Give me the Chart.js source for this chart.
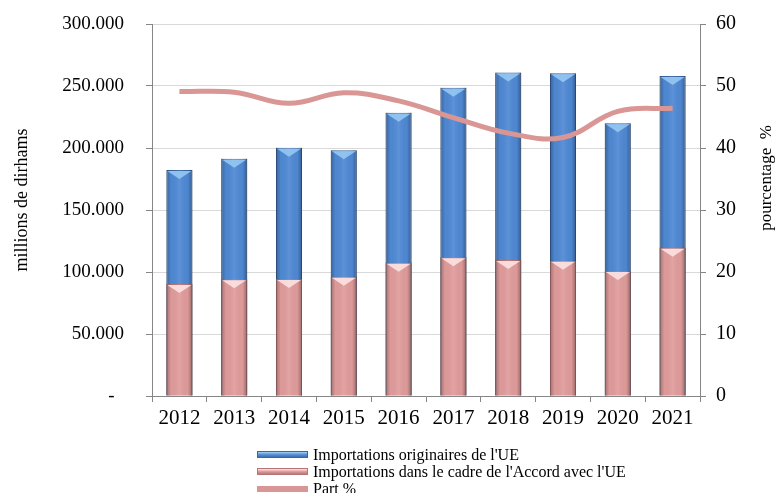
<!DOCTYPE html>
<html><head><meta charset="utf-8">
<script src="https://cdn.jsdelivr.net/npm/chart.js@4/dist/chart.umd.min.js"></script>
<style>
html,body{margin:0;padding:0;background:#fff;}
#wrap{position:relative;width:777px;height:493px;overflow:hidden;}
#c{position:absolute;left:0;top:0;}
#legend{position:absolute;left:257px;top:446px;font-family:'Liberation Serif','Times New Roman',serif;font-size:16px;color:#000;}
.item{display:flex;align-items:center;height:17px;white-space:nowrap;}
.sw{width:51px;height:7px;margin-right:5px;box-sizing:border-box;}
</style></head><body>
<div id="wrap"><canvas id="c" width="777" height="493"></canvas><div id="legend"></div></div>
<script>
const categories = ['2012','2013','2014','2015','2016','2017','2018','2019','2020','2021'];
const importsUE = [182300, 191400, 200200, 198100, 228500, 248600, 260800, 260200, 219900, 258000];
const importsAccord = [90300, 94100, 94400, 96200, 107500, 111800, 109700, 109100, 100800, 119600];
const partPct = [49.1, 49.0, 47.2, 48.9, 47.6, 44.9, 42.4, 41.7, 45.9, 46.4];
const seriesNames = ["Importations originaires de l'UE", "Importations dans le cadre de l'Accord avec l'UE", "Part %"];
const leftTitle = 'millions de dirhams';
const rightTitle = 'pourcentage  %';

const FONT = "'Liberation Serif', 'Times New Roman', serif";
const BLUE = '#4F89D4', BLUE_EDGE = '#3A67A3', BLUE_HI = '#9ACBF5';
const PINK = '#E09C9B', PINK_EDGE = '#B57575', PINK_HI = '#FFE6E6';
const LINE = '#D99694';

const barShade = {
  id: 'barShade',
  afterDatasetDraw(chart, args) {
    const meta = args.meta;
    if (meta.type !== 'bar') return;
    const ctx = chart.ctx;
    const hi = meta.index === 0 ? BLUE_HI : PINK_HI;
    ctx.save();
    meta.data.forEach(el => {
      const p = el.getProps(['x', 'y', 'base', 'width'], true);
      const l = p.x - p.width / 2, w = p.width, t = Math.min(p.y, p.base), h = Math.abs(p.base - p.y);
      const g = ctx.createLinearGradient(l, 0, l + w, 0);
      g.addColorStop(0, 'rgba(0,0,0,0.28)');
      g.addColorStop(0.18, 'rgba(0,0,0,0.02)');
      g.addColorStop(0.5, 'rgba(255,255,255,0.08)');
      g.addColorStop(0.82, 'rgba(0,0,0,0.02)');
      g.addColorStop(1, 'rgba(0,0,0,0.32)');
      ctx.fillStyle = g;
      ctx.fillRect(l, t, w, h);
      ctx.beginPath();
      ctx.moveTo(l + 1, t + 1);
      ctx.lineTo(l + w - 1, t + 1);
      ctx.lineTo(p.x, t + 9);
      ctx.closePath();
      ctx.fillStyle = hi;
      ctx.globalAlpha = 0.85;
      ctx.fill();
      ctx.globalAlpha = 1;
    });
    ctx.restore();
  }
};

const titles = {
  id: 'titles',
  afterDraw(chart) {
    const ctx = chart.ctx, a = chart.chartArea;
    ctx.save();
    ctx.fillStyle = '#000';
    ctx.textAlign = 'center';
    ctx.textBaseline = 'middle';
    ctx.font = '18px ' + FONT;
    ctx.translate(22, (a.top + a.bottom) / 2 - 10);
    ctx.rotate(-Math.PI / 2);
    ctx.fillText(leftTitle, 0, 0);
    ctx.restore();
    ctx.save();
    ctx.fillStyle = '#000';
    ctx.textAlign = 'center';
    ctx.textBaseline = 'middle';
    ctx.font = '17px ' + FONT;
    ctx.translate(767, (a.top + a.bottom) / 2 - 32);
    ctx.rotate(-Math.PI / 2);
    ctx.fillText(rightTitle, 0, 0);
    ctx.restore();
  }
};

const fmt = v => v === 0 ? '-  ' : String(v).replace(/\B(?=(\d{3})+(?!\d))/g, '.');

new Chart(document.getElementById('c'), {
  data: {
    labels: categories,
    datasets: [
      { type: 'bar', label: seriesNames[0], data: importsUE, backgroundColor: BLUE, borderColor: BLUE_EDGE, borderWidth: 1,
        yAxisID: 'y', order: 2, categoryPercentage: 0.5, barPercentage: 0.95 },
      { type: 'bar', label: seriesNames[1], data: importsAccord, backgroundColor: PINK, borderColor: PINK_EDGE, borderWidth: 1,
        yAxisID: 'y', order: 1, categoryPercentage: 0.5, barPercentage: 0.95 },
      { type: 'line', label: seriesNames[2], data: partPct, borderColor: LINE, borderWidth: 5, pointRadius: 0,
        tension: 0.4, yAxisID: 'y1', order: 0, fill: false }
    ]
  },
  options: {
    responsive: false,
    animation: false,
    layout: { padding: { top: 24, left: 0, right: 0, bottom: 0 } },
    plugins: { legend: { display: false }, tooltip: { enabled: false } },
    scales: {
      x: {
        stacked: true,
        offset: true,
        grid: { offset: true, drawOnChartArea: false, drawTicks: true, tickLength: 6, color: '#868686' },
        border: { color: '#868686', width: 1 },
        ticks: { font: { family: FONT, size: 21 }, color: '#000', padding: 4, maxRotation: 0 },
        afterFit: s => { s.height = 97; }
      },
      y: {
        position: 'left',
        stacked: false,
        min: 0, max: 300000,
        ticks: { stepSize: 50000, callback: fmt, font: { family: FONT, size: 19 }, color: '#000', padding: 22 },
        grid: { color: '#D9D9D9', tickLength: 6, tickColor: '#868686' },
        border: { color: '#868686', width: 1 },
        afterFit: s => { s.width = 152; s.paddingTop = 12; s.paddingBottom = 12; }
      },
      y1: {
        position: 'right',
        min: 0, max: 60,
        ticks: { stepSize: 10, font: { family: FONT, size: 20 }, color: '#000', padding: 10 },
        grid: { drawOnChartArea: false, tickLength: 6, color: '#868686' },
        border: { color: '#868686', width: 1 },
        afterFit: s => { s.width = 77; s.paddingTop = 12; s.paddingBottom = 12; }
      }
    }
  },
  plugins: [barShade, titles]
});

const swatches = [
  'background:linear-gradient(to bottom,#A5D2F7 0%,#5A95DC 45%,#3E6FB0 100%);border:1px solid #3A67A3;',
  'background:linear-gradient(to bottom,#FFEAEA 0%,#E3A09F 45%,#B97878 100%);border:1px solid #B57575;',
  'background:' + LINE + ';height:6px;'
];
const lg = document.getElementById('legend');
seriesNames.forEach((n, i) => {
  const d = document.createElement('div');
  d.className = 'item';
  const s = document.createElement('span');
  s.className = 'sw';
  s.setAttribute('style', swatches[i]);
  const t = document.createElement('span');
  t.textContent = n;
  d.appendChild(s); d.appendChild(t);
  lg.appendChild(d);
});
</script>
</body></html>
